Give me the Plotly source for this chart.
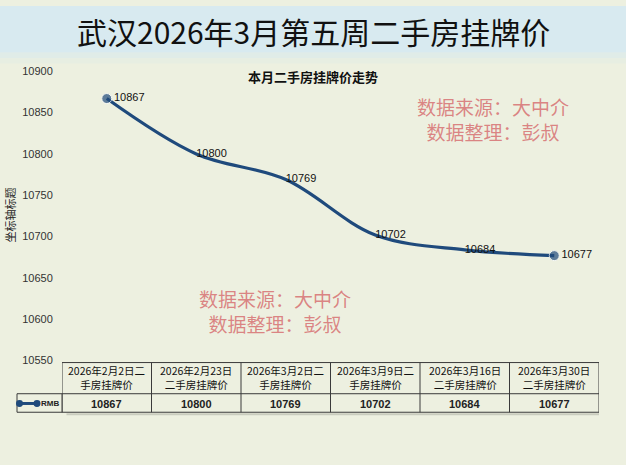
import plotly.graph_objects as go

title_text = "武汉2026年3月第五周二手房挂牌价"
subtitle_text = "本月二手房挂牌价走势"
y_title = "坐标轴标题"
series_name = "RMB"
categories = [
    "2026年2月2日二<br>手房挂牌价",
    "2026年2月23日<br>二手房挂牌价",
    "2026年3月2日二<br>手房挂牌价",
    "2026年3月9日二<br>手房挂牌价",
    "2026年3月16日<br>二手房挂牌价",
    "2026年3月30日<br>二手房挂牌价",
]
values = [10867, 10800, 10769, 10702, 10684, 10677]
y_ticks = [10550, 10600, 10650, 10700, 10750, 10800, 10850, 10900]
watermark = "数据来源：大中介<br>数据整理：彭叔"

W, H = 626, 465
def py(pix):
    return 1 - pix / H
def px(pix):
    return pix / W

LINE = "#1f4a7c"
CJK = "Noto Sans CJK SC"
n = len(categories)
xs = list(range(n))

fig = go.Figure()
fig.add_trace(go.Scatter(
    x=xs, y=values, mode="lines+markers+text",
    line=dict(color=LINE, width=3.2, shape="spline", smoothing=1.0),
    marker=dict(size=[10] + [0] * (n - 2) + [10], color=LINE),
    text=[str(v) for v in values], textposition="middle right",
    textfont=dict(size=11, color="#111", family="Liberation Sans"),
    name=series_name, showlegend=False, cliponaxis=False,
))

shapes = []
# title band
shapes.append(dict(type="rect", xref="paper", yref="paper", x0=0, x1=1, y0=py(48), y1=1,
                   fillcolor="#d8eaf0", line_width=0, layer="below"))
shapes.append(dict(type="rect", xref="paper", yref="paper", x0=0, x1=1, y0=py(54), y1=py(48),
                   fillcolor="#e0ece8", line_width=0, layer="below"))
shapes.append(dict(type="rect", xref="paper", yref="paper", x0=0, x1=1, y0=py(59), y1=py(54),
                   fillcolor="#e7eee2", line_width=0, layer="below"))

# table grid
top, mid, bot = py(366), py(398), py(417)
bc = "#3a3a3a"
# faint shadow
shapes.append(dict(type="line", xref="x", yref="paper", x0=-0.45, x1=n - 0.45, y0=py(419), y1=py(419),
                   line=dict(color="rgba(0,0,0,0.15)", width=2), layer="below"))
shapes.append(dict(type="line", xref="x", yref="paper", x0=n - 0.48, x1=n - 0.48, y0=py(368), y1=py(419),
                   line=dict(color="rgba(0,0,0,0.15)", width=2), layer="below"))
for yv in (top, mid, bot):
    shapes.append(dict(type="line", xref="x", yref="paper", x0=-0.5, x1=n - 0.5, y0=yv, y1=yv,
                       line=dict(color=bc, width=1)))
for i in range(n + 1):
    shapes.append(dict(type="line", xref="x", yref="paper", x0=i - 0.5, x1=i - 0.5, y0=top, y1=bot,
                       line=dict(color=bc, width=1)))
# legend cell
shapes.append(dict(type="rect", xref="paper", yref="paper", x0=px(17), x1=px(62), y0=bot, y1=mid,
                   line=dict(color=bc, width=1)))
shapes.append(dict(type="line", xref="paper", yref="paper", x0=px(19), x1=px(37), y0=py(408), y1=py(408),
                   line=dict(color=LINE, width=3)))
for cx in (19.5, 37):
    shapes.append(dict(type="circle", xref="paper", yref="paper",
                       x0=px(cx - 3.5), x1=px(cx + 3.5), y0=py(408 + 3.5), y1=py(408 - 3.5),
                       fillcolor=LINE, line_width=0))

def A(**kw):
    d = dict(xref="paper", yref="paper", showarrow=False, xanchor="center", yanchor="middle")
    d.update(kw)
    return d

ann = []
ann.append(A(text=title_text, x=0.5, y=py(26), font=dict(size=30, color="#111", family=CJK)))
ann.append(A(text="<b>" + subtitle_text + "</b>", x=px(313), y=py(72),
             font=dict(size=13, color="#111", family=CJK)))
ann.append(A(text=y_title, x=px(10), y=py(215), textangle=-90,
             font=dict(size=11, color="#222", family=CJK)))
for i, c in enumerate(categories):
    ann.append(A(text=c, xref="x", x=i, y=py(381),
                 font=dict(size=10.5, color="#111", family=CJK)))
    ann.append(A(text="<b>" + str(values[i]) + "</b>", xref="x", x=i, y=py(408.5),
                 font=dict(size=11, color="#222", family="Liberation Sans")))
ann.append(A(text="<b>" + series_name + "</b>", x=px(50), y=py(408),
             font=dict(size=8, color="#222", family="Liberation Sans")))
for cx, cy in ((493, 116), (275, 313)):
    ann.append(A(text=watermark, x=px(cx), y=py(cy), align="center",
                 font=dict(size=19, color="rgba(215,112,114,0.85)", family=CJK)))

fig.update_layout(
    width=W, height=H, margin=dict(l=0, r=0, t=0, b=0),
    paper_bgcolor="#edf0e0", plot_bgcolor="rgba(0,0,0,0)",
    xaxis=dict(domain=[px(62), px(599)], range=[-0.5, n - 0.5], showticklabels=False,
               showgrid=False, zeroline=False, showline=False, fixedrange=True),
    yaxis=dict(domain=[py(364), py(67)], range=[10550, 10900], tickvals=y_ticks,
               ticktext=[str(t) for t in y_ticks],
               showgrid=False, zeroline=False, showline=False, ticks="outside", ticklen=6,
               tickcolor="rgba(0,0,0,0)", tickfont=dict(size=11, color="#333", family="Liberation Sans")),
    shapes=shapes, annotations=ann, showlegend=False,
)
fig.write_html("out.html")
